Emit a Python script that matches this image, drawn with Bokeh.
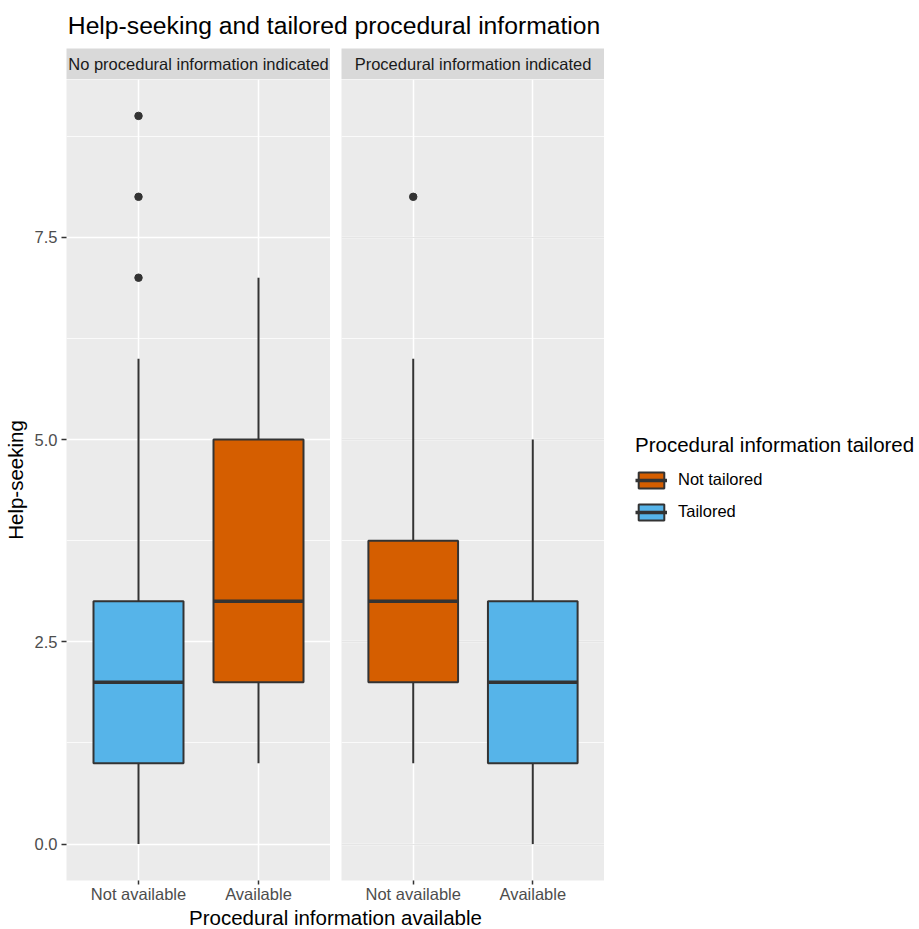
from bokeh.plotting import figure
from bokeh.layouts import column, row
from bokeh.models import (Range1d, FactorRange, FixedTicker, Legend, LegendItem,
                          ColumnDataSource, Grid)
from bokeh.transform import dodge
from bokeh.core.properties import value
from bokeh.embed import file_html
from bokeh.resources import INLINE

FONT = "Liberation Sans"

# ---------------- data ----------------
title_text = "Help-seeking and tailored procedural information"
panel_titles = ["No procedural information indicated", "Procedural information indicated"]
categories = ["Not available", "Available"]
x_title = "Procedural information available"
y_title = "Help-seeking"
legend_title = "Procedural information tailored"
groups = ["Not tailored", "Tailored"]
group_colors = ["#D55E00", "#56B4E9"]

# panel 1: No procedural information indicated (order follows categories)
p1_group = ["Tailored", "Not tailored"]
p1_low = [0, 1]
p1_q1 = [1, 2]
p1_med = [2, 3]
p1_q3 = [3, 5]
p1_high = [6, 7]
p1_out_cat = ["Not available", "Not available", "Not available"]
p1_out_val = [7, 8, 9]

# panel 2: Procedural information indicated
p2_group = ["Not tailored", "Tailored"]
p2_low = [1, 0]
p2_q1 = [2, 1]
p2_med = [3, 2]
p2_q3 = [3.75, 3]
p2_high = [6, 5]
p2_out_cat = ["Not available"]
p2_out_val = [8]

y_ticks = [0, 2.5, 5, 7.5]
y_minor = [1.25, 3.75, 6.25, 8.75]
y_tick_labels = ["0.0", "2.5", "5.0", "7.5"]

# ---------------- geometry ----------------
W, H = 919, 929
TH, SH, FH, MB = 48, 31, 803, 23
PH = FH + MB
XH = H - TH - SH - PH
F1, F2 = 264, 263
W1, L1 = 66 + F1, 66
W2, L2 = 11 + F2, 11
W3 = W - W1 - W2

all_vals = p1_low + p1_high + p1_out_val + p2_low + p2_high + p2_out_val
lo, hi = min(all_vals), max(all_vals)
pad = 0.05 * (hi - lo)
yr = Range1d(lo - pad, hi + pad)

INK = "#333333"
BOX_W = 0.75


def blank(width, height, mbl=0):
    f = figure(width=width, height=height, x_axis_location=None, y_axis_location=None,
               toolbar_location=None, output_backend="svg", title=None,
               min_border_left=mbl, min_border_right=0, min_border_top=0, min_border_bottom=0)
    f.outline_line_color = None
    f.border_fill_color = "white"
    f.background_fill_color = "white"
    f.grid.visible = False
    return f


# title
tf = blank(W, TH)
tf.x_range = Range1d(0, W)
tf.y_range = Range1d(0, TH)
tf.text(x=[67.3], y=[TH - 25], text=[title_text], text_align="left", text_baseline="middle",
        text_font=value(FONT), text_font_size="24.7px", text_color="black")


def strip(txt, width, mbl):
    s = blank(width, SH, mbl)
    s.x_range = Range1d(0, 1)
    s.y_range = Range1d(0, 1)
    s.background_fill_color = "#D9D9D9"
    s.text(x=[0.5], y=[0.5], text=[txt], text_align="center", text_baseline="middle",
           text_font=value(FONT), text_font_size="16.5px", text_color="#1A1A1A")
    return s


s1 = strip(panel_titles[0], W1, L1)
s2 = strip(panel_titles[1], W2, L2)


def add_boxes(p, grp, low, q1, med, q3, high):
    rends = {}
    for gname, col in zip(groups, group_colors):
        idx = [i for i, gg in enumerate(grp) if gg == gname]
        src = ColumnDataSource(dict(
            x=[categories[i] for i in idx], low=[low[i] for i in idx], q1=[q1[i] for i in idx],
            med=[med[i] for i in idx], q3=[q3[i] for i in idx], high=[high[i] for i in idx]))
        p.segment(x0="x", y0="low", x1="x", y1="q1", source=src, line_color=INK, line_width=2)
        p.segment(x0="x", y0="q3", x1="x", y1="high", source=src, line_color=INK, line_width=2)
        box = p.vbar(x="x", width=BOX_W, bottom="q1", top="q3", source=src,
                     fill_color=col, line_color=INK, line_width=2)
        mr = p.segment(x0=dodge("x", -BOX_W / 2, range=p.x_range), y0="med",
                       x1=dodge("x", BOX_W / 2, range=p.x_range), y1="med",
                       source=src, line_color=INK, line_width=3.5)
        rends[gname] = [box, mr]
    return rends


def panel(grp, low, q1, med, q3, high, out_cat, out_val, width, mbl, show_y):
    p = figure(x_range=FactorRange(*categories, range_padding=0.1), y_range=yr,
               width=width, height=PH, output_backend="svg", toolbar_location=None, title=None,
               y_axis_location="left" if show_y else None,
               min_border_left=mbl, min_border_right=0, min_border_top=0, min_border_bottom=MB)
    p.background_fill_color = "#EBEBEB"
    p.border_fill_color = "white"
    p.outline_line_color = None
    if not show_y:
        p.add_layout(Grid(dimension=1, ticker=FixedTicker(ticks=y_ticks, minor_ticks=y_minor)), "center")
    g = p.ygrid[0]
    g.ticker = FixedTicker(ticks=y_ticks, minor_ticks=y_minor)
    g.grid_line_color = "white"
    g.grid_line_width = 1.5
    g.minor_grid_line_color = "white"
    g.minor_grid_line_width = 0.75
    p.xgrid.grid_line_color = "white"
    p.xgrid.grid_line_width = 1.5

    xa = p.xaxis[0]
    xa.axis_line_color = None
    xa.major_tick_line_color = INK
    xa.major_tick_line_width = 1.5
    xa.major_tick_out = 4
    xa.major_tick_in = 0
    xa.minor_tick_line_color = None
    xa.major_label_standoff = 0
    xa.major_label_text_font = FONT
    xa.major_label_text_font_size = "16.5px"
    xa.major_label_text_line_height = 1.0
    xa.major_label_text_color = "#4D4D4D"

    if show_y:
        ya = p.yaxis[0]
        ya.ticker = FixedTicker(ticks=y_ticks, minor_ticks=y_minor)
        ya.major_label_overrides = {t: l for t, l in zip(y_ticks, y_tick_labels)}
        ya.axis_line_color = None
        ya.major_tick_line_color = INK
        ya.major_tick_line_width = 1.5
        ya.major_tick_out = 5
        ya.major_tick_in = 0
        ya.minor_tick_line_color = None
        ya.major_label_standoff = 4
        ya.major_label_text_font = FONT
        ya.major_label_text_font_size = "16.5px"
        ya.major_label_text_color = "#4D4D4D"
        ya.axis_label = y_title
        ya.axis_label_text_font = FONT
        ya.axis_label_text_font_size = "20.5px"
        ya.axis_label_text_font_style = "normal"
        ya.axis_label_text_color = "black"
        ya.axis_label_standoff = 5

    add_boxes(p, grp, low, q1, med, q3, high)
    p.scatter(x=out_cat, y=out_val, size=7.5, color=INK)
    return p


p1 = panel(p1_group, p1_low, p1_q1, p1_med, p1_q3, p1_high, p1_out_cat, p1_out_val, W1, L1, True)
p2 = panel(p2_group, p2_low, p2_q1, p2_med, p2_q3, p2_high, p2_out_cat, p2_out_val, W2, L2, False)

# legend figure: proxy renderers (NaN data, nothing drawn) carry the key styling
lf = figure(width=W3, height=PH, x_range=FactorRange(*categories), y_range=Range1d(0, 1),
            x_axis_location=None, y_axis_location=None, toolbar_location=None,
            output_backend="svg", title=None,
            min_border_left=0, min_border_right=0, min_border_top=0, min_border_bottom=0)
lf.outline_line_color = None
lf.border_fill_color = "white"
lf.background_fill_color = "white"
lf.grid.visible = False
nan = float("nan")
proxy = add_boxes(lf, groups, [nan, nan], [nan, nan], [nan, nan], [nan, nan], [nan, nan])

legend = Legend(items=[LegendItem(label=gname, renderers=proxy[gname]) for gname in groups],
                location=(31, 358.5), title=legend_title)
legend.title_text_font = FONT
legend.title_text_font_size = "20.5px"
legend.title_text_font_style = "normal"
legend.title_text_color = "black"
legend.title_standoff = 13
legend.label_text_font = FONT
legend.label_text_font_size = "16.5px"
legend.label_text_color = "black"
legend.glyph_width = 32
legend.glyph_height = 20
legend.label_height = 20
legend.spacing = 12
legend.label_standoff = 11
legend.padding = 0
legend.margin = 0
legend.border_line_color = None
legend.background_fill_alpha = 0
lf.add_layout(legend)

xf = blank(W, XH)
xf.x_range = Range1d(0, W)
xf.y_range = Range1d(0, XH)
xf.text(x=[(L1 + L1 + F1 + L2 + F2) / 2], y=[H - 916.8], text=[x_title], text_align="center",
        text_baseline="middle", text_font=value(FONT), text_font_size="20.5px", text_color="black")

layout = column(tf, row(s1, s2), row(p1, p2, lf), xf)
open("out.html", "w").write(file_html(layout, INLINE))
